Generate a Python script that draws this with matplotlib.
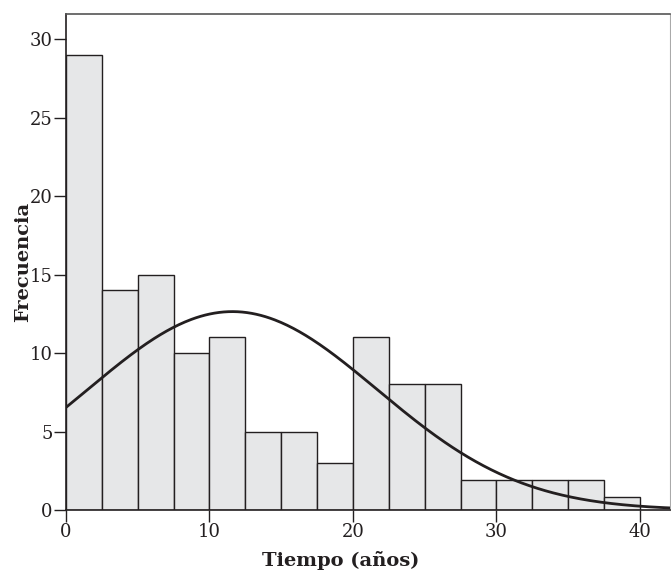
import numpy as np
import matplotlib.pyplot as plt

# histogram bins (years) and counts
bin_edges = np.arange(0, 40.1, 2.5)
counts = [29, 14, 15, 10, 11, 5, 5, 3, 11, 8, 8, 1.9, 1.9, 1.9, 1.9, 0.85]

# fitted normal curve parameters
mu = 11.6
sigma = 10.1
n_total = 128
bin_w = 2.5

x_ticks = [0, 10, 20, 30, 40]
y_ticks = [0, 5, 10, 15, 20, 25, 30]

plt.rcParams['font.family'] = 'DejaVu Serif'

fig = plt.figure(figsize=(6.71, 5.77), dpi=100)
ax = fig.add_axes([66/671, 1 - 510/577, 604/671, 496/577])

ax.bar(bin_edges[:-1], counts, width=bin_w, align='edge',
       color='#e6e7e8', edgecolor='#231f20', linewidth=1.0, zorder=2)

xs = np.linspace(0, 43, 400)
ys = n_total * bin_w / (sigma * np.sqrt(2 * np.pi)) * np.exp(-(xs - mu) ** 2 / (2 * sigma ** 2))
ax.plot(xs, ys, color='#231f20', linewidth=2.0, zorder=3)

ax.set_xlim(0, 42.1)
ax.set_ylim(0, 31.6)
ax.set_xticks(x_ticks)
ax.set_yticks(y_ticks)
ax.tick_params(axis='both', direction='out', length=8.5, width=1.0,
               color='#231f20', labelsize=13, labelcolor='#231f20', pad=1)

for side in ['left', 'bottom']:
    ax.spines[side].set_color('#231f20')
    ax.spines[side].set_linewidth(1.2)
ax.spines['top'].set_color('#555555')
ax.spines['top'].set_linewidth(1.2)
ax.spines['right'].set_color('#aaaaaa')
ax.spines['right'].set_linewidth(0.8)

ax.set_xlabel('Tiempo (años)', fontsize=14, fontweight='bold', color='#231f20')
ax.xaxis.set_label_coords(0.455, -0.082)
ax.set_ylabel('Frecuencia', fontsize=14, fontweight='bold', color='#231f20')
ax.yaxis.set_label_coords(-0.056, 0.5)

fig.savefig('out.png', dpi=100)
